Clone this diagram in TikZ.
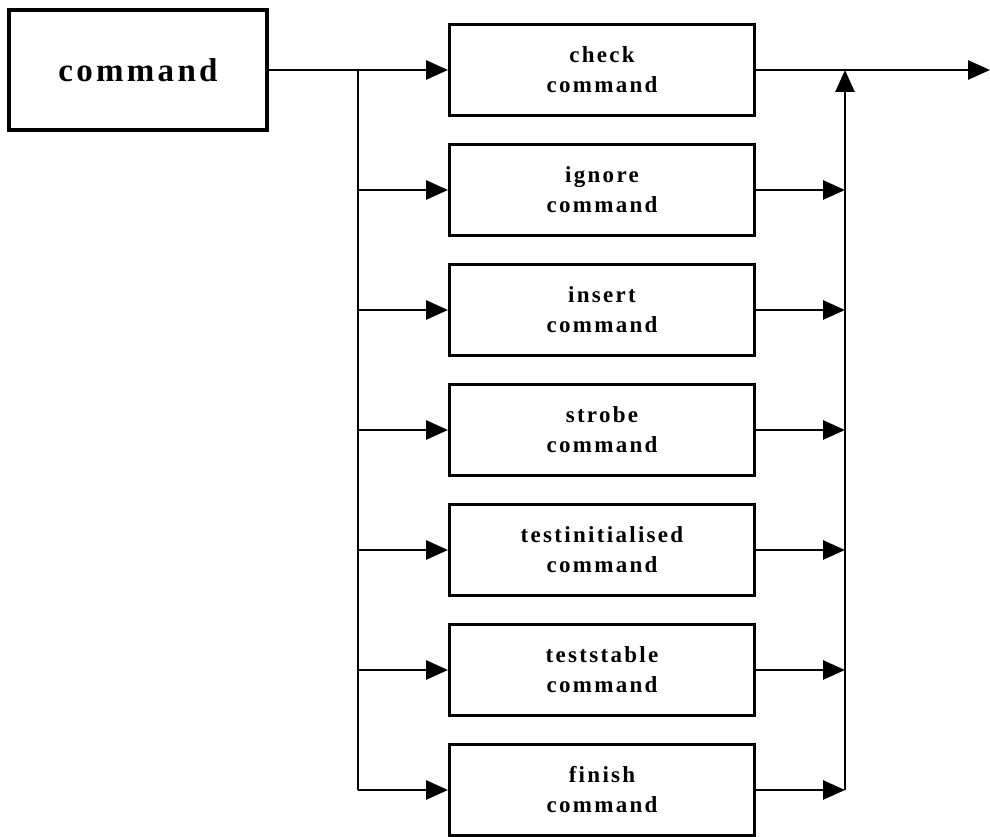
\documentclass[tikz,border=0pt]{standalone}
\usepackage{fontspec}
\setmainfont{Liberation Serif}
\newfontfamily\lblfont{Liberation Serif}[LetterSpace=10]
\usetikzlibrary{arrows.meta,positioning}
\tikzset{cmdbox/.style={draw,line width=3pt,minimum width=305pt,minimum height=91pt,align=center,font=\lblfont\bfseries\fontsize{23}{30}\selectfont},topbox/.style={cmdbox,line width=4pt,minimum width=258pt,minimum height=120pt,font=\lblfont\bfseries\fontsize{33}{36}\selectfont},edge/.style={-{Triangle[length=22pt,width=19pt]},line width=2.8pt},trunk/.style={line width=2.8pt}}
\begin{document}
\begin{tikzpicture}[x=1pt,y=-1pt,node distance=26pt]
\useasboundingbox (0,0) rectangle (990,837);
\node[topbox] (cmd) at (138,70) {command};\node[cmdbox] (chk) at (602,70) {check\\command};\node[cmdbox,below=of chk] (ign) {ignore\\command};\node[cmdbox,below=of ign] (ins) {insert\\command};\node[cmdbox,below=of ins] (strb) {strobe\\command};\node[cmdbox,below=of strb] (tini) {testinitialised\\command};\node[cmdbox,below=of tini] (tstb) {teststable\\command};\node[cmdbox,below=of tstb] (fin) {finish\\command};
\coordinate (lt) at (358,70);\coordinate (rt) at (845,70);\coordinate (out) at (990,70);
\draw[edge] (cmd.east) -- (chk.west);\draw[trunk] (lt) -- (lt |- fin.west);\draw[edge] (chk.east) -- (out);\draw[edge] (rt |- fin.east) -- (rt);
\foreach \b in {ign,ins,strb,tini,tstb,fin}{\draw[edge] (lt |- \b.west) -- (\b.west);\draw[edge] (\b.east) -- (rt |- \b.east);}
\end{tikzpicture}
\end{document}
